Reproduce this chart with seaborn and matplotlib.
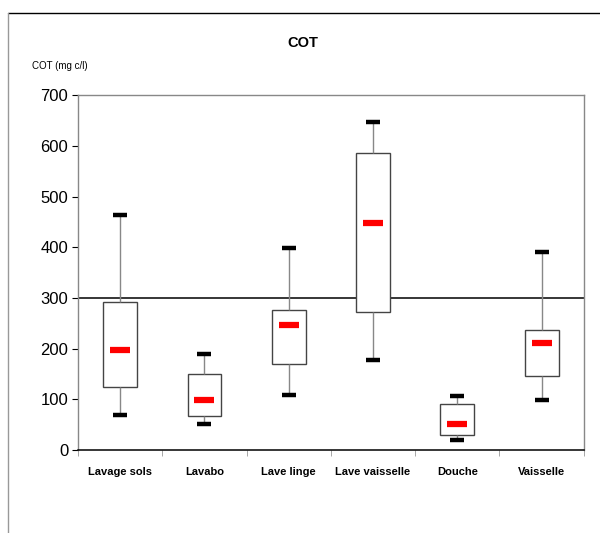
"""
COT par type d'eau grise - boites a moustaches
"""

import pandas as pd
import numpy as np
import seaborn as sns
import matplotlib.pyplot as plt
from matplotlib.lines import Line2D


# --------------------------------------------------
# Values (min, q1, median, q3, max)
# --------------------------------------------------
categories = ["Lavage sols", "Lavabo", "Lave linge", "Lave vaisselle", "Douche", "Vaisselle"]
v_min = [69, 51, 109, 178, 20, 99]
v_q1 = [124, 67, 170, 272, 29, 146]
v_med = [197, 99, 247, 448, 51, 211]
v_q3 = [292, 150, 276, 586, 91, 237]
v_max = [464, 190, 399, 647, 107, 391]
y_ticks = [0, 100, 200, 300, 400, 500, 600, 700]

# five points per category -> quartiles fall exactly on the values
rows = []
for i, cat in enumerate(categories):
    for v in (v_min[i], v_q1[i], v_med[i], v_q3[i], v_max[i]):
        rows.append({"cat": cat, "cot": v})
df = pd.DataFrame(rows)

stats = pd.DataFrame({"cat": categories, "low": v_min, "high": v_max, "med": v_med})

# --------------------------------------------------
# Plot
# --------------------------------------------------
sns.set_style("white")
plt.rcParams["font.family"] = ["Liberation Sans", "DejaVu Sans"]
plt.rcParams["text.color"] = "black"
plt.rcParams["xtick.color"] = "black"
plt.rcParams["ytick.color"] = "black"

fig = plt.figure(figsize=(6, 5.33), dpi=100)
ax = fig.add_axes([0.13, 0.156, 0.843, 0.665])

ax.axhline(300, color="black", lw=1.1, zorder=1)

sns.boxplot(data=df, x="cat", y="cot", order=categories, whis=(0, 100),
            width=0.4, showcaps=False, showfliers=False, ax=ax,
            boxprops=dict(facecolor="white", edgecolor="#444444", linewidth=1, zorder=2),
            whiskerprops=dict(color="#888888", linewidth=1),
            medianprops=dict(color="white", linewidth=0))

# caps and medians as short thick bars
sns.scatterplot(data=stats, x="cat", y="low", marker="_", s=90, color="black",
                linewidth=3.2, ax=ax, zorder=4, legend=False)
sns.scatterplot(data=stats, x="cat", y="high", marker="_", s=90, color="black",
                linewidth=3.2, ax=ax, zorder=4, legend=False)
sns.scatterplot(data=stats, x="cat", y="med", marker="_", s=210, color="#ff0000",
                linewidth=4.5, ax=ax, zorder=5, legend=False)

ax.set_ylim(0, 700)
ax.set_xlim(-0.5, len(categories) - 0.5)
ax.set_yticks(y_ticks)
ax.set_yticklabels([str(t) for t in y_ticks], fontsize=12)
ax.set_xticks(range(len(categories)))
ax.set_xticklabels(categories, fontsize=8, fontweight="semibold")
ax.tick_params(axis="x", length=0, pad=12)
ax.tick_params(axis="y", left=True, length=4, width=0.8, color="black", pad=3)
# boundary ticks between categories
ax.set_xticks(np.arange(-0.5, len(categories), 1), minor=True)
ax.tick_params(axis="x", which="minor", bottom=True, length=4, color="#999999")
ax.set_xlabel("")
ax.set_ylabel("")

for side in ["left", "right", "top"]:
    ax.spines[side].set_color("#888888")
    ax.spines[side].set_linewidth(1)
ax.spines["bottom"].set_color("black")
ax.spines["bottom"].set_linewidth(1.1)

fig.text(0.505, 0.92, "COT", ha="center", va="center", fontsize=10.5,
         fontweight="bold", color="black")
fig.text(0.1, 0.877, "COT (mg c/l)", ha="center", va="center", fontsize=7,
         color="black")

# outer frame lines
fig.add_artist(Line2D([0.014, 1.0], [0.975, 0.975], color="black", lw=1))
fig.add_artist(Line2D([0.014, 0.014], [0.0, 0.975], color="#999999", lw=1))

plt.savefig("out.png", dpi=100)
plt.close()
